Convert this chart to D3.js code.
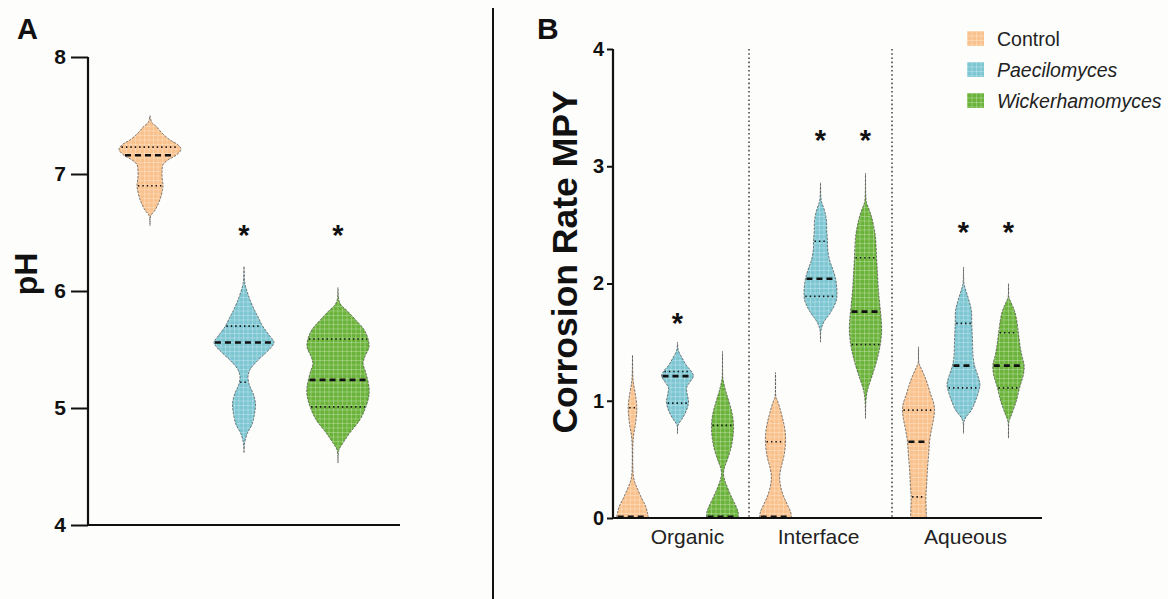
<!DOCTYPE html>
<html><head><meta charset="utf-8">
<script src="https://cdn.jsdelivr.net/npm/d3@7"></script>
<style>
html,body{margin:0;padding:0;background:#fdfdfc;}
svg{display:block;font-family:"Liberation Sans",Arial,Helvetica,sans-serif;}
</style></head><body>
<svg id="chart" width="1168" height="599"></svg>
<script>
// ---- series shared by both panels ----
const series = ["Control", "Paecilomyces", "Wickerhamomyces"];
const seriesColors = ["#f9c18c", "#7cc6d2", "#6ab339"];
const seriesItalic = [false, true, true];

// ---- Panel A: pH ----
const phTicks = [4, 5, 6, 7, 8];
const phQ1 = [6.90, 5.22, 5.01];
const phMedian = [7.16, 5.56, 5.24];
const phQ3 = [7.23, 5.70, 5.59];
const phStars = [null, 6.52, 6.52];
// violin outlines: values along the axis and relative kernel density
const phControlValues = [6.56, 6.64, 6.69, 6.78, 6.86, 6.90, 6.97, 7.03, 7.08, 7.12, 7.16, 7.21, 7.25, 7.29, 7.35, 7.41, 7.44, 7.50];
const phControlDensity = [0, 0.02, 0.16, 0.32, 0.40, 0.42, 0.39, 0.39, 0.42, 0.58, 0.84, 1.0, 0.9, 0.65, 0.39, 0.19, 0.06, 0];
const phPaecValues = [4.62, 4.70, 4.78, 4.86, 4.95, 5.04, 5.12, 5.20, 5.27, 5.33, 5.40, 5.47, 5.52, 5.56, 5.62, 5.70, 5.77, 5.83, 5.92, 6.03, 6.08, 6.21];
const phPaecDensity = [0, 0.02, 0.10, 0.26, 0.34, 0.37, 0.30, 0.17, 0.13, 0.20, 0.42, 0.70, 0.88, 0.97, 0.82, 0.60, 0.47, 0.35, 0.20, 0.06, 0.02, 0];
const phWickValues = [4.53, 4.64, 4.70, 4.79, 4.90, 5.01, 5.11, 5.18, 5.30, 5.38, 5.44, 5.52, 5.59, 5.67, 5.75, 5.84, 5.88, 5.92, 6.03];
const phWickDensity = [0, 0.03, 0.16, 0.39, 0.71, 0.90, 1.0, 1.0, 0.90, 0.81, 0.87, 1.0, 0.97, 0.84, 0.58, 0.26, 0.10, 0.03, 0];

// ---- Panel B: corrosion rate (MPY) ----
const phases = ["Organic", "Interface", "Aqueous"];
const corrosionTicks = [0, 1, 2, 3, 4];
const organicQ1 = [0.0, 0.98, 0.0];
const organicMedian = [0.01, 1.21, 0.01];
const organicQ3 = [0.94, 1.25, 0.79];
const interfaceQ1 = [0.0, 1.89, 1.48];
const interfaceMedian = [0.01, 2.04, 1.76];
const interfaceQ3 = [0.65, 2.36, 2.22];
const aqueousQ1 = [0.18, 1.11, 1.11];
const aqueousMedian = [0.65, 1.30, 1.30];
const aqueousQ3 = [0.92, 1.66, 1.58];
const organicStars = [null, 1.71, null];
const interfaceStars = [null, 3.27, 3.27];
const aqueousStars = [null, 2.48, 2.48];

const organicControlValues = [0, 0.05, 0.10, 0.17, 0.25, 0.30, 0.35, 0.45, 0.60, 0.70, 0.80, 0.90, 0.95, 1.05, 1.15, 1.22, 1.39];
const organicControlDensity = [0.97, 0.90, 0.80, 0.55, 0.30, 0.15, 0.06, 0.02, 0.02, 0.06, 0.18, 0.25, 0.26, 0.18, 0.06, 0.02, 0];
const organicPaecValues = [0.72, 0.79, 0.85, 0.92, 0.99, 1.05, 1.11, 1.16, 1.21, 1.25, 1.30, 1.36, 1.43, 1.50];
const organicPaecDensity = [0, 0.03, 0.30, 0.55, 0.67, 0.60, 0.55, 0.75, 0.97, 0.85, 0.55, 0.30, 0.05, 0];
const organicWickValues = [0, 0.05, 0.10, 0.18, 0.26, 0.33, 0.38, 0.43, 0.50, 0.60, 0.70, 0.79, 0.88, 0.98, 1.08, 1.17, 1.20, 1.42];
const organicWickDensity = [0.97, 0.95, 0.82, 0.55, 0.30, 0.12, 0.06, 0.12, 0.30, 0.52, 0.64, 0.67, 0.60, 0.42, 0.20, 0.05, 0.02, 0];

const interfaceControlValues = [0, 0.05, 0.12, 0.20, 0.28, 0.35, 0.42, 0.52, 0.62, 0.72, 0.82, 0.92, 1.00, 1.03, 1.24];
const interfaceControlDensity = [0.97, 0.92, 0.70, 0.45, 0.30, 0.25, 0.32, 0.50, 0.60, 0.60, 0.48, 0.30, 0.12, 0.03, 0];
const interfacePaecValues = [1.50, 1.60, 1.67, 1.75, 1.85, 1.92, 2.00, 2.05, 2.12, 2.20, 2.30, 2.37, 2.45, 2.54, 2.62, 2.70, 2.75, 2.86];
const interfacePaecDensity = [0, 0.03, 0.20, 0.60, 0.95, 1.0, 0.96, 0.90, 0.75, 0.55, 0.43, 0.42, 0.38, 0.36, 0.25, 0.06, 0.02, 0];
const interfaceWickValues = [0.85, 1.00, 1.09, 1.22, 1.35, 1.48, 1.60, 1.70, 1.80, 1.95, 2.10, 2.22, 2.40, 2.54, 2.62, 2.69, 2.75, 2.94];
const interfaceWickDensity = [0, 0.03, 0.12, 0.42, 0.70, 0.90, 0.98, 0.95, 0.88, 0.78, 0.72, 0.67, 0.60, 0.42, 0.25, 0.06, 0.02, 0];

const aqueousControlValues = [0, 0.10, 0.18, 0.30, 0.43, 0.55, 0.65, 0.75, 0.85, 0.92, 0.98, 1.05, 1.12, 1.20, 1.28, 1.32, 1.46];
const aqueousControlDensity = [0.48, 0.46, 0.45, 0.50, 0.55, 0.62, 0.67, 0.78, 0.92, 0.97, 0.92, 0.75, 0.60, 0.40, 0.15, 0.03, 0];
const aqueousPaecValues = [0.72, 0.82, 0.86, 0.92, 1.00, 1.08, 1.14, 1.20, 1.30, 1.38, 1.49, 1.60, 1.66, 1.77, 1.86, 1.95, 2.00, 2.14];
const aqueousPaecDensity = [0, 0.03, 0.15, 0.48, 0.73, 0.92, 1.0, 0.90, 0.67, 0.58, 0.55, 0.52, 0.50, 0.48, 0.32, 0.12, 0.03, 0];
const aqueousWickValues = [0.68, 0.82, 0.88, 1.00, 1.11, 1.22, 1.30, 1.38, 1.45, 1.58, 1.70, 1.77, 1.84, 1.88, 2.00];
const aqueousWickDensity = [0, 0.03, 0.18, 0.48, 0.67, 0.90, 0.95, 0.82, 0.72, 0.60, 0.48, 0.36, 0.15, 0.03, 0];

// ---- assemble per-panel tables ----
const phProfiles = [
  [phControlValues, phControlDensity],
  [phPaecValues, phPaecDensity],
  [phWickValues, phWickDensity]
];
const corrosionTable = [
  { phase: "Organic", q1: organicQ1, med: organicMedian, q3: organicQ3, stars: organicStars,
    profiles: [[organicControlValues, organicControlDensity], [organicPaecValues, organicPaecDensity], [organicWickValues, organicWickDensity]] },
  { phase: "Interface", q1: interfaceQ1, med: interfaceMedian, q3: interfaceQ3, stars: interfaceStars,
    profiles: [[interfaceControlValues, interfaceControlDensity], [interfacePaecValues, interfacePaecDensity], [interfaceWickValues, interfaceWickDensity]] },
  { phase: "Aqueous", q1: aqueousQ1, med: aqueousMedian, q3: aqueousQ3, stars: aqueousStars,
    profiles: [[aqueousControlValues, aqueousControlDensity], [aqueousPaecValues, aqueousPaecDensity], [aqueousWickValues, aqueousWickDensity]] }
];
// horizontal nudge of each phase label under its group (px)
const phaseLabelNudge = [10, -2, 2];

const svg = d3.select("#chart");
svg.append("rect").attr("width", 1168).attr("height", 599).attr("fill", "#fdfdfc");

// checkered fill texture for each series
const defs = svg.append("defs");
seriesColors.forEach((c, i) => {
  const p = defs.append("pattern").attr("id", "tex" + i)
    .attr("width", 4.5).attr("height", 4.5).attr("patternUnits", "userSpaceOnUse");
  p.append("rect").attr("width", 4.5).attr("height", 4.5).attr("fill", c);
  p.append("path").attr("d", "M0 0.5H4.5M0.5 0V4.5")
    .attr("stroke", "#ffffff").attr("stroke-opacity", 0.38).attr("stroke-width", 0.7);
});

// linear read of the outline half-width at a given value
function densityAt(vals, dens, v) {
  if (v <= vals[0]) return dens[0];
  for (let i = 0; i < vals.length - 1; i++) {
    if (v >= vals[i] && v <= vals[i + 1]) {
      const t = (v - vals[i]) / (vals[i + 1] - vals[i]);
      return dens[i] + t * (dens[i + 1] - dens[i]);
    }
  }
  return dens[dens.length - 1];
}

function drawViolin(g, cx, vals, dens, y, w, si, q1, med, q3) {
  const pts = vals.map((v, i) => ({ v, d: dens[i] }));
  const area = d3.area()
    .y(d => y(d.v))
    .x0(d => cx - w(d.d))
    .x1(d => cx + w(d.d))
    .curve(d3.curveCatmullRom.alpha(0.5));
  g.append("path").attr("d", area(pts))
    .attr("fill", `url(#tex${si})`)
    .attr("stroke", "#444").attr("stroke-width", 0.75)
    .attr("stroke-dasharray", "2.5,1.2").attr("stroke-opacity", 0.9);
  const qline = (v, dash, sw) => {
    const hw = w(densityAt(vals, dens, v)) - 1;
    if (hw <= 0.5) return;
    g.append("line")
      .attr("x1", cx - hw).attr("x2", cx + hw)
      .attr("y1", y(v)).attr("y2", y(v))
      .attr("stroke", "#111").attr("stroke-width", sw)
      .attr("stroke-dasharray", dash);
  };
  qline(q1, "1.4,3", 1.6);
  qline(q3, "1.4,3", 1.6);
  qline(med, "6,4", 2.6);
}

function drawStar(g, x, yPos) {
  g.append("text").attr("x", x).attr("y", yPos + 15)
    .attr("text-anchor", "middle").attr("font-size", 29).attr("font-weight", "bold")
    .attr("fill", "#111").text("*");
}

function styleAxis(sel, fontSize) {
  sel.selectAll(".domain").remove();
  sel.selectAll(".tick line").attr("stroke", "#111").attr("stroke-width", 2);
  sel.selectAll(".tick text").attr("fill", "#111").attr("font-size", fontSize)
    .attr("font-weight", "bold").attr("font-family", "Liberation Sans, Arial, sans-serif");
}

// ================= Panel A =================
const gA = svg.append("g");
const yA = d3.scaleLinear().domain([4, 8]).range([525, 57]);
const xA = d3.scalePoint().domain(series).range([150, 338]);
const wA = d3.scaleLinear().domain([0, 1]).range([0, 31]);

const axA = gA.append("g").attr("transform", "translate(88,0)")
  .call(d3.axisLeft(yA).tickValues(phTicks).tickSize(17).tickPadding(5).tickFormat(d3.format("d")));
styleAxis(axA, 21);
gA.append("line").attr("x1", 88).attr("x2", 88).attr("y1", yA(8)).attr("y2", yA(4) + 1)
  .attr("stroke", "#111").attr("stroke-width", 2.2);
gA.append("line").attr("x1", 87).attr("x2", 400).attr("y1", yA(4)).attr("y2", yA(4))
  .attr("stroke", "#111").attr("stroke-width", 2.2);

series.forEach((s, i) => {
  drawViolin(gA, xA(s), phProfiles[i][0], phProfiles[i][1], yA, wA, i, phQ1[i], phMedian[i], phQ3[i]);
  if (phStars[i] != null) drawStar(gA, xA(s), yA(phStars[i]));
});

gA.append("text").attr("transform", "translate(37,274) rotate(-90)")
  .attr("text-anchor", "middle").attr("font-size", 32).attr("font-weight", "bold")
  .attr("fill", "#111").text("pH");
gA.append("text").attr("x", 17).attr("y", 39).attr("font-size", 29)
  .attr("font-weight", "bold").attr("fill", "#111").text("A");

// panel separator
svg.append("line").attr("x1", 493).attr("x2", 493).attr("y1", 8).attr("y2", 599)
  .attr("stroke", "#111").attr("stroke-width", 2);

// ================= Panel B =================
const gB = svg.append("g");
const yB = d3.scaleLinear().domain([0, 4]).range([518, 49]);
const xPhase = d3.scaleBand().domain(phases).range([606, 1035]);
const xSeries = d3.scalePoint().domain(series).range([-45, 45]);
const wB = d3.scaleLinear().domain([0, 1]).range([0, 16.5]);

const axB = gB.append("g").attr("transform", "translate(613,0)")
  .call(d3.axisLeft(yB).tickValues(corrosionTicks).tickSize(6).tickPadding(3).tickFormat(d3.format("d")));
styleAxis(axB, 20);

// dotted separators between phases
phases.slice(1).forEach(p => {
  gB.append("line").attr("x1", xPhase(p)).attr("x2", xPhase(p))
    .attr("y1", yB(4)).attr("y2", yB(0))
    .attr("stroke", "#333").attr("stroke-width", 1.4).attr("stroke-dasharray", "1.6,2.6");
});

corrosionTable.forEach((row, gi) => {
  const cx0 = xPhase(row.phase) + xPhase.bandwidth() / 2;
  series.forEach((s, i) => {
    const cx = cx0 + xSeries(s);
    drawViolin(gB, cx, row.profiles[i][0], row.profiles[i][1], yB, wB, i, row.q1[i], row.med[i], row.q3[i]);
    if (row.stars[i] != null) drawStar(gB, cx, yB(row.stars[i]));
  });
  gB.append("text").attr("x", cx0 + phaseLabelNudge[gi]).attr("y", 544).attr("text-anchor", "middle")
    .attr("font-size", 21).attr("fill", "#222").text(row.phase);
});

gB.append("line").attr("x1", 613).attr("x2", 613).attr("y1", yB(4)).attr("y2", yB(0) + 1)
  .attr("stroke", "#111").attr("stroke-width", 2.2);
gB.append("line").attr("x1", 612).attr("x2", 1042).attr("y1", yB(0)).attr("y2", yB(0))
  .attr("stroke", "#111").attr("stroke-width", 2.2);

gB.append("text").attr("transform", "translate(577,262) rotate(-90)")
  .attr("text-anchor", "middle").attr("font-size", 35.5).attr("font-weight", "bold")
  .attr("fill", "#111").text("Corrosion Rate MPY");
gB.append("text").attr("x", 537).attr("y", 39).attr("font-size", 30)
  .attr("font-weight", "bold").attr("fill", "#111").text("B");

// legend
const legend = gB.append("g").attr("transform", "translate(967,31)");
series.forEach((s, i) => {
  const row = legend.append("g").attr("transform", `translate(0,${i * 31})`);
  row.append("rect").attr("width", 17).attr("height", 15).attr("fill", `url(#tex${i})`);
  row.append("text").attr("x", 30).attr("y", 15).attr("font-size", 19.5)
    .attr("font-style", seriesItalic[i] ? "italic" : "normal")
    .attr("fill", "#222").text(s);
});
</script>
</body></html>
